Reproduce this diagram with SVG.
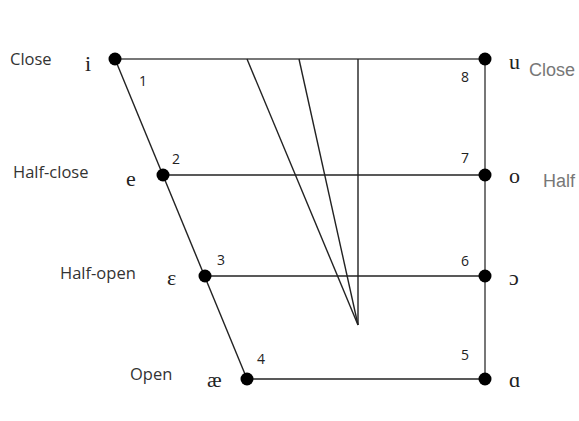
<svg xmlns="http://www.w3.org/2000/svg" width="579" height="421" viewBox="0 0 579 421">
<style>
.lbl{font-family:"Open Sans","Liberation Sans",sans-serif;font-size:16.5px;fill:#333}
.num{font-family:"Open Sans","Liberation Sans",sans-serif;font-size:14px;fill:#222}
.ph{font-family:"Liberation Serif","DejaVu Serif",serif;font-size:22px;fill:#222}
.gr{font-family:"Liberation Sans",sans-serif;font-size:18px;fill:#777}
.ln{stroke:#222;stroke-width:1.4;fill:none}
.dot{fill:#000}
</style>
<rect width="579" height="421" fill="#fff"/>
<g id="connectors">
<line class="ln" x1="115" y1="59" x2="485" y2="59" style="stroke:#777;stroke-width:2"/>
<line class="ln" x1="485" y1="59" x2="485" y2="379" style="stroke:#777;stroke-width:2"/>
<line class="ln" x1="115" y1="59" x2="247" y2="379"/>
<line class="ln" x1="163" y1="175" x2="485" y2="175"/>
<line class="ln" x1="205" y1="276" x2="485" y2="276"/>
<line class="ln" x1="247" y1="379" x2="485" y2="379"/>
<line class="ln" x1="247" y1="59" x2="358" y2="325"/>
<line class="ln" x1="299" y1="59" x2="358" y2="325"/>
<line class="ln" x1="358" y1="59" x2="358" y2="325"/>
</g>
<g id="node-i"><circle class="dot" cx="115" cy="59" r="6.5"/><text class="lbl" x="10" y="65">Close</text><text class="ph" x="85" y="71">i</text><text class="num" x="139" y="86">1</text></g>
<g id="node-e"><circle class="dot" cx="163" cy="175" r="6.5"/><text class="lbl" x="13" y="178">Half-close</text><text class="ph" x="126" y="186">e</text><text class="num" x="172" y="164">2</text></g>
<g id="node-eps"><circle class="dot" cx="205" cy="276" r="6.5"/><text class="lbl" x="60" y="279">Half-open</text><text class="ph" x="167" y="285">ε</text><text class="num" x="217" y="265">3</text></g>
<g id="node-ae"><circle class="dot" cx="247" cy="379" r="6.5"/><text class="lbl" x="130" y="380">Open</text><text class="ph" x="207" y="387">æ</text><text class="num" x="257" y="364">4</text></g>
<g id="node-u"><circle class="dot" cx="485" cy="59" r="6.5"/><text class="num" x="461" y="82">8</text><text class="ph" x="509" y="69">u</text><text class="gr" x="529" y="76">Close</text></g>
<g id="node-o"><circle class="dot" cx="485" cy="175" r="6.5"/><text class="num" x="461" y="163">7</text><text class="ph" x="509" y="183">o</text><text class="gr" x="543" y="187">Half</text></g>
<g id="node-openo"><circle class="dot" cx="485" cy="276" r="6.5"/><text class="num" x="461" y="266">6</text><text class="ph" x="509" y="285">ɔ</text></g>
<g id="node-a"><circle class="dot" cx="485" cy="379" r="6.5"/><text class="num" x="461" y="360">5</text><text class="ph" x="509" y="387">ɑ</text></g>
</svg>
